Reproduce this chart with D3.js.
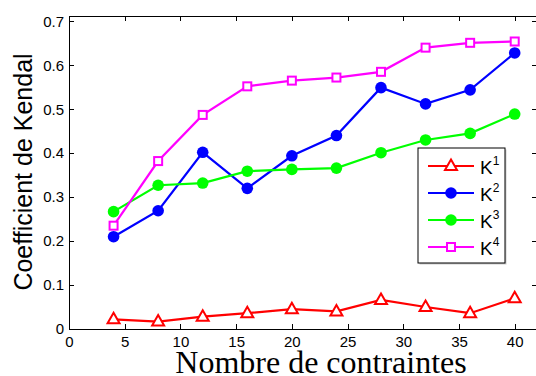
<!DOCTYPE html>
<meta charset="utf-8">
<style>
body { margin: 0; background: #fff; }
svg { display: block; }
.axis text { font: 15px "Liberation Sans", Arial, sans-serif; fill: #000; }
.axis path, .axis line { stroke: #000; shape-rendering: crispEdges; }
</style>
<body>
<div id="chart"></div>
<script src="https://cdnjs.cloudflare.com/ajax/libs/d3/7.8.5/d3.min.js"></script>
<script>
// number of constraints
var nbContraintes = [4, 8, 12, 16, 20, 24, 28, 32, 36, 40];
var k1 = [0.022, 0.017, 0.028, 0.036, 0.045, 0.040, 0.066, 0.050, 0.036, 0.070];
var k2 = [0.210, 0.269, 0.402, 0.320, 0.394, 0.440, 0.549, 0.512, 0.544, 0.628];
var k3 = [0.267, 0.327, 0.332, 0.359, 0.363, 0.366, 0.401, 0.430, 0.445, 0.489];
var k4 = [0.235, 0.382, 0.487, 0.552, 0.565, 0.572, 0.585, 0.640, 0.651, 0.654];
var seriesNames = ["1", "2", "3", "4"];
var xTicks = [0, 5, 10, 15, 20, 25, 30, 35, 40];
var yTicks = [0, 0.1, 0.2, 0.3, 0.4, 0.5, 0.6, 0.7];

var W = 536, H = 376;
var margin = {top: 16, right: -1, bottom: 47, left: 69};
var width = W - margin.left - margin.right,
    height = H - margin.top - margin.bottom;

var svg = d3.select("#chart").append("svg")
    .attr("width", W).attr("height", H);
var g = svg.append("g")
    .attr("transform", "translate(" + margin.left + "," + margin.top + ")");

var x = d3.scaleLinear().domain([0, 42]).range([0, width]);
var y = d3.scaleLinear().domain([0, 0.712]).range([height, 0]);

// axes, ticks pointing inward like matlab
g.append("g").attr("class", "axis")
  .attr("transform", "translate(0," + height + ")")
  .call(d3.axisBottom(x).tickValues(xTicks).tickSizeInner(-5).tickSizeOuter(0).tickPadding(7));
g.append("g").attr("class", "axis")
  .call(d3.axisTop(x).tickValues(xTicks).tickSizeInner(-5).tickSizeOuter(0).tickFormat(""));
g.append("g").attr("class", "axis")
  .call(d3.axisLeft(y).tickValues(yTicks).tickSizeInner(-5).tickSizeOuter(0).tickPadding(5)
    .tickFormat(function(d) { return d === 0 ? "0" : d3.format(".1f")(d); }));
g.append("g").attr("class", "axis")
  .attr("transform", "translate(" + width + ",0)")
  .call(d3.axisRight(y).tickValues(yTicks).tickSizeInner(-5).tickSizeOuter(0).tickFormat(""));

var series = [
  {name: seriesNames[0], values: k1, color: "#ff0000", marker: "triangle"},
  {name: seriesNames[1], values: k2, color: "#0000ff", marker: "circle"},
  {name: seriesNames[2], values: k3, color: "#00ff00", marker: "circle"},
  {name: seriesNames[3], values: k4, color: "#ff00ff", marker: "square"}
];

var line = d3.line()
  .x(function(d, i) { return x(nbContraintes[i]); })
  .y(function(d) { return y(d); });

function drawMarker(sel, s) {
  if (s.marker == "circle") {
    sel.append("circle").attr("r", 5.8).attr("fill", s.color);
  } else if (s.marker == "square") {
    sel.append("rect").attr("x", -4).attr("y", -4).attr("width", 8).attr("height", 8)
      .attr("fill", "#fff").attr("stroke", s.color).attr("stroke-width", 2);
  } else {
    sel.append("path").attr("d", "M0,-6.5L6,4L-6,4Z")
      .attr("fill", "#fff").attr("stroke", s.color).attr("stroke-width", 2);
  }
}

series.forEach(function(s) {
  g.append("path")
    .attr("d", line(s.values))
    .attr("fill", "none")
    .attr("stroke", s.color)
    .attr("stroke-width", 2.2);
  g.selectAll(null).data(s.values).enter().append("g")
    .attr("transform", function(d, i) { return "translate(" + x(nbContraintes[i]) + "," + y(d) + ")"; })
    .each(function() { drawMarker(d3.select(this), s); });
});

// legend
var leg = svg.append("g").attr("transform", "translate(418,148)");
leg.append("rect").attr("x", 1.5).attr("y", 1.5).attr("width", 87).attr("height", 115)
  .attr("fill", "#ccc");
leg.append("rect").attr("width", 87).attr("height", 115)
  .attr("fill", "#fff").attr("stroke", "#000").attr("stroke-width", 1);
series.forEach(function(s, i) {
  var row = leg.append("g").attr("transform", "translate(0," + (18 + i * 27) + ")");
  row.append("line").attr("x1", 10).attr("x2", 56).attr("stroke", s.color).attr("stroke-width", 2.2);
  var m = row.append("g").attr("transform", "translate(33,0)");
  drawMarker(m, s);
  var t = row.append("text").attr("x", 62).attr("y", 8)
    .style("font", "19px 'Liberation Sans', Arial, sans-serif");
  t.append("tspan").text("K");
  t.append("tspan").attr("dy", -9).style("font-size", "12px").text(s.name);
});

// axis titles
svg.append("text")
  .attr("x", 321).attr("y", 373)
  .attr("text-anchor", "middle")
  .style("font", "32px 'Liberation Serif', 'Times New Roman', serif")
  .text("Nombre de contraintes");
svg.append("text")
  .attr("transform", "translate(32,172) rotate(-90)")
  .attr("text-anchor", "middle")
  .style("font", "25px 'Liberation Sans', Arial, sans-serif")
  .text("Coefficient de Kendal");
</script>
</body>
